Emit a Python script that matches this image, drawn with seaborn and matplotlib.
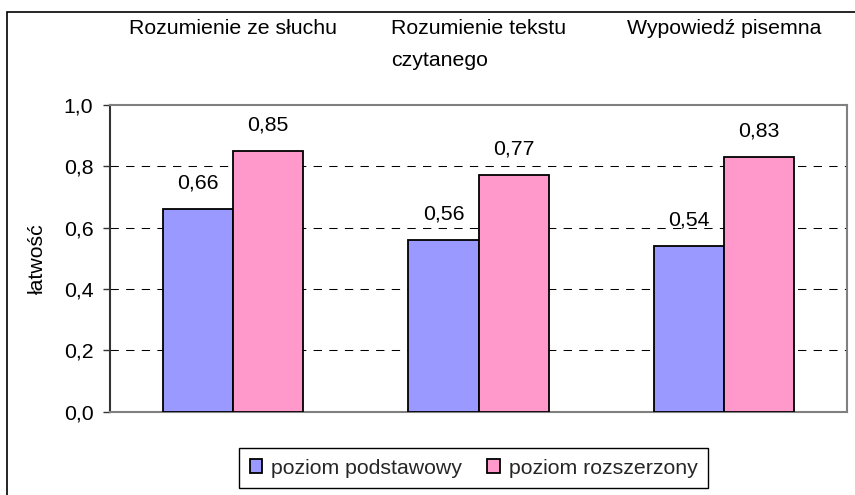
import matplotlib
matplotlib.use("Agg")
import matplotlib.pyplot as plt
from matplotlib.patches import Rectangle
from matplotlib.ticker import FixedLocator, FuncFormatter
import seaborn as sns
import pandas as pd

# ---- data ----
categories = ["Rozumienie ze słuchu", "Rozumienie tekstu\nczytanego", "Wypowiedź pisemna"]
series_names = ["poziom podstawowy", "poziom rozszerzony"]
basic = [0.66, 0.56, 0.54]
extended = [0.85, 0.77, 0.83]
y_ticks = [0.0, 0.2, 0.4, 0.6, 0.8, 1.0]
y_label = "łatwość"
colors = ["#9999FF", "#FF99CC"]

df = pd.DataFrame({
    "kategoria": categories * 2,
    "wartosc": basic + extended,
    "poziom": [series_names[0]] * 3 + [series_names[1]] * 3,
})

sns.set_theme(style="white")
plt.rcParams["font.family"] = ["Liberation Sans", "DejaVu Sans"]
FS = 15.3

fig = plt.figure(figsize=(8.55, 4.95), dpi=100)
W, H = 855, 495
ax = fig.add_axes([110 / W, 1 - 411.5 / H, (847 - 110) / W, (411.5 - 105) / H])

sns.barplot(data=df, x="kategoria", y="wartosc", hue="poziom", order=categories,
            hue_order=series_names, palette=colors, saturation=1, width=0.57,
            edgecolor="black", linewidth=1.3, ax=ax, zorder=3)

ax.set_ylim(0, 1.0)
ax.yaxis.set_major_locator(FixedLocator(y_ticks))
ax.yaxis.set_major_formatter(FuncFormatter(lambda v, p: f"{v:.1f}".replace(".", ",")))
ax.tick_params(axis="y", left=True, length=5, width=1, color="#333333", pad=7,
               labelsize=FS, labelcolor="black")
ax.tick_params(axis="x", bottom=False, labelbottom=False, top=False, labeltop=False)
ax.set_xlabel("")
ax.set_ylabel(y_label, fontsize=FS, color="black")
ax.yaxis.set_label_coords(-0.085, 0.5)

# gridlines
ax.set_axisbelow(True)
for yv in y_ticks[1:-1]:
    ax.axhline(yv, color="black", linewidth=0.75, linestyle=(0, (8, 7)), zorder=1)

for name, sp in ax.spines.items():
    sp.set_visible(True)
    sp.set_linewidth(1.5)
    sp.set_color("#808080")
ax.spines["left"].set_color("#333333")

# value labels
for cont in ax.containers:
    vals = [b.get_height() for b in cont]
    ax.bar_label(cont, labels=[f"{v:.2f}".replace(".", ",") for v in vals],
                 padding=12, fontsize=FS, color="black")

# category labels on top
xs = ax.get_xticks()
for xpos, cat in zip(xs, categories):
    ax.text(xpos, (411.5 - 19) / (411.5 - 105), cat, transform=ax.get_xaxis_transform(),
            ha="center", va="top", multialignment="left", linespacing=1.85,
            fontsize=FS, color="black", clip_on=False)

# legend
handles, labels = ax.get_legend_handles_labels()
if ax.get_legend() is not None:
    ax.get_legend().remove()
leg = fig.legend(handles, labels, loc="center", bbox_to_anchor=(473.5 / W, 1 - 468 / H),
                 ncol=2, fontsize=FS, frameon=True, fancybox=False, shadow=False,
                 framealpha=1, edgecolor="black", handlelength=0.6, handleheight=0.6,
                 handletextpad=0.4, columnspacing=1.2, borderpad=0.5, borderaxespad=0)
leg.get_frame().set_linewidth(1.0)

# chart-area outer frame
fig.add_artist(Rectangle((7 / W, -0.02), 1.1, (1 - 12 / H) + 0.02, transform=fig.transFigure,
                         fill=False, edgecolor="black", linewidth=1.2, clip_on=False))

fig.savefig("out.png", dpi=100)
